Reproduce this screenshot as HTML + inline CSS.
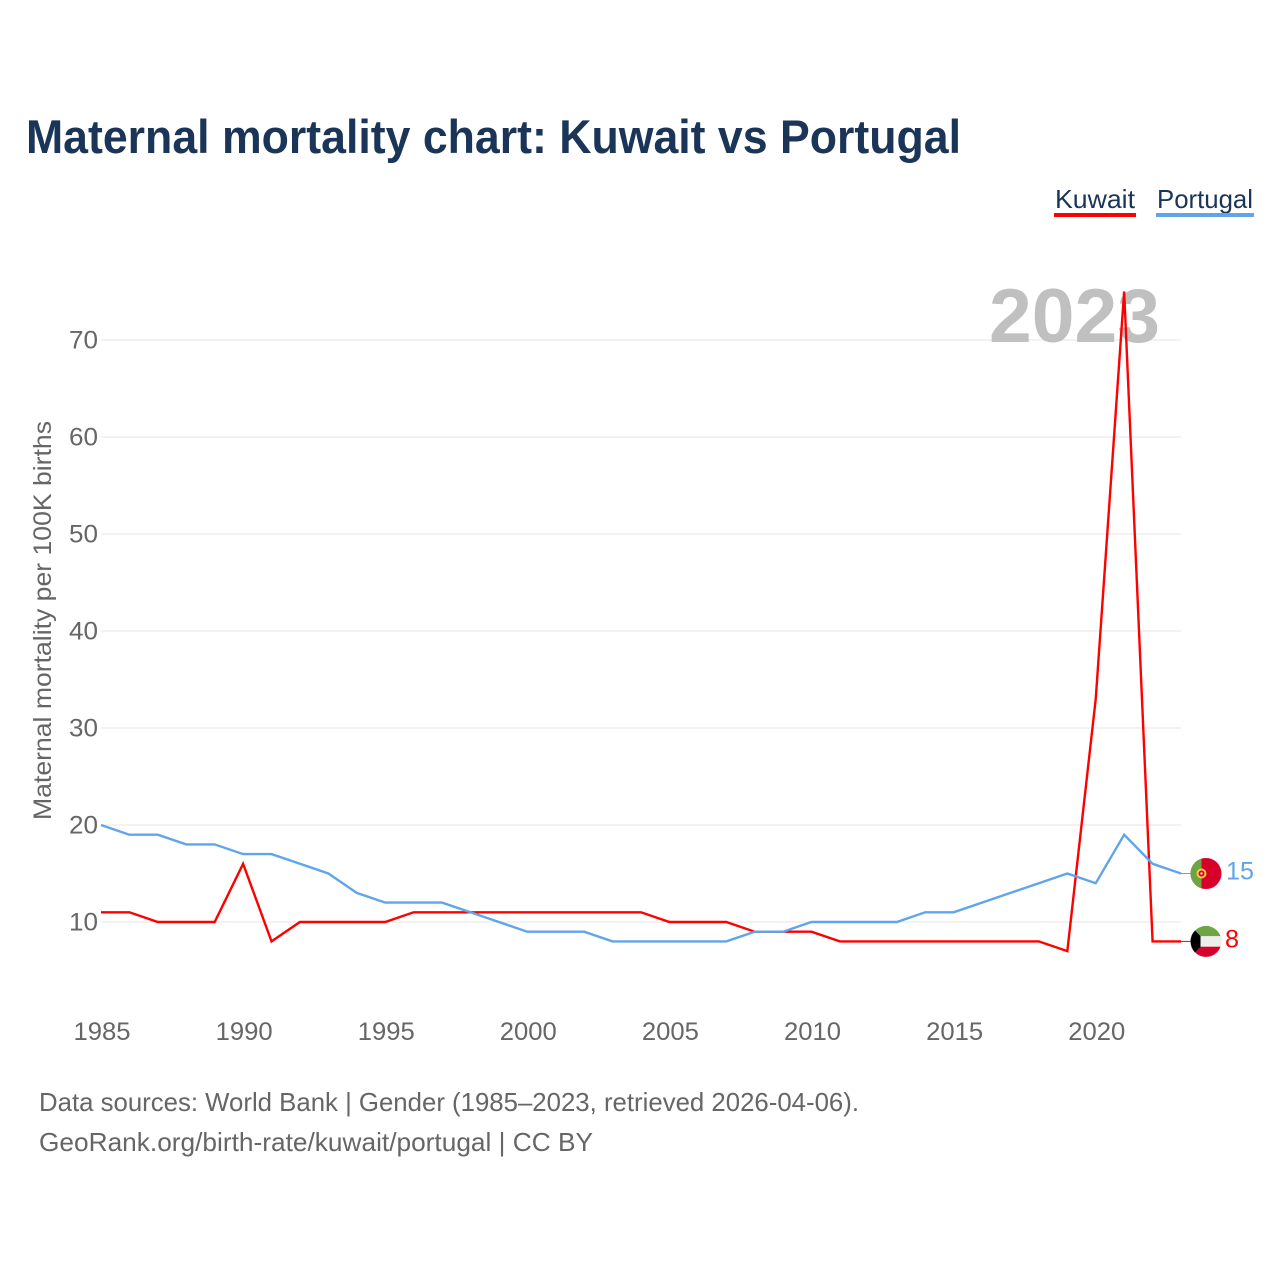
<!DOCTYPE html>
<html lang="en">
<head>
<meta charset="utf-8">
<title>Maternal mortality chart: Kuwait vs Portugal</title>
<style>
  html, body { margin: 0; padding: 0; background: #fff; }
  svg { display: block; font-family: "Liberation Sans", sans-serif; }
</style>
</head>
<body>
<svg id="chart" xmlns="http://www.w3.org/2000/svg" width="1280" height="1280" viewBox="0 0 1280 1280">
  <defs>
    <clipPath id="flag-clip-pt"><circle id="clip-pt" r="15.5"></circle></clipPath>
    <clipPath id="flag-clip-kw"><circle id="clip-kw" r="15.5"></circle></clipPath>
  </defs>
  <text x="26" y="153" font-size="47" font-weight="700" fill="#1a3557" textLength="935" lengthAdjust="spacingAndGlyphs">Maternal mortality chart: Kuwait vs Portugal</text>

  <text x="1055" y="208" font-size="26" fill="#1a3557" textLength="80" lengthAdjust="spacingAndGlyphs">Kuwait</text>
  <rect x="1054" y="213" width="82" height="4" fill="#ff0000"></rect>
  <text x="1157" y="208" font-size="26" fill="#1a3557" textLength="96" lengthAdjust="spacingAndGlyphs">Portugal</text>
  <rect x="1156" y="213" width="98" height="4" fill="#60a5ea"></rect>

  <text transform="translate(51,820) rotate(-90)" font-size="25" fill="#666666" textLength="399" lengthAdjust="spacingAndGlyphs">Maternal mortality per 100K births</text>

  <g id="grid"></g>
  <g id="y-ticks"></g>
  <g id="x-ticks"></g>

  <text x="1160" y="342" font-size="76" font-weight="700" fill="#c0c0c0" text-anchor="end" textLength="171" lengthAdjust="spacingAndGlyphs">2023</text>

  <g id="series"></g>
  <g id="endpoints"></g>

  <text x="39" y="1111" font-size="26" fill="#666666" textLength="820" lengthAdjust="spacingAndGlyphs">Data sources: World Bank | Gender (1985–2023, retrieved 2026-04-06).</text>
  <text x="39" y="1151" font-size="26" fill="#666666" textLength="554" lengthAdjust="spacingAndGlyphs">GeoRank.org/birth-rate/kuwait/portugal | CC BY</text>
</svg>
<script>
const years = [1985,1986,1987,1988,1989,1990,1991,1992,1993,1994,1995,1996,1997,1998,1999,2000,2001,2002,2003,2004,2005,2006,2007,2008,2009,2010,2011,2012,2013,2014,2015,2016,2017,2018,2019,2020,2021,2022,2023];
const kuwaitValues = [11,11,10,10,10,16,8,10,10,10,10,11,11,11,11,11,11,11,11,11,10,10,10,9,9,9,8,8,8,8,8,8,8,8,7,33,75,8,8];
const portugalValues = [20,19,19,18,18,17,17,16,15,13,12,12,12,11,10,9,9,9,8,8,8,8,8,9,9,10,10,10,10,11,11,12,13,14,15,14,19,16,15];
const yTickValues = [10,20,30,40,50,60,70];
const xTickValues = [1985,1990,1995,2000,2005,2010,2015,2020];

const NS = 'http://www.w3.org/2000/svg';
const plotLeft = 101, plotRight = 1181;
function xScale(year) {
  return plotLeft + (year - years[0]) * (plotRight - plotLeft) / (years[years.length - 1] - years[0]);
}
function yScale(value) {
  return 1019 - 9.7 * value;
}
function make(parent, tag, attrs, text) {
  const el = document.createElementNS(NS, tag);
  for (const k in attrs) el.setAttribute(k, attrs[k]);
  if (text !== undefined) el.textContent = text;
  parent.appendChild(el);
  return el;
}

const grid = document.getElementById('grid');
const yTicks = document.getElementById('y-ticks');
const xTicks = document.getElementById('x-ticks');
yTickValues.forEach(function (v) {
  const line = make(grid, 'line', { x1: plotLeft, x2: plotRight, y1: yScale(v), y2: yScale(v), stroke: '#eeeeee', 'stroke-width': 1.5 });
  
  
  const label = make(yTicks, 'text', { x: 98, y: yScale(v) + 8.5, 'font-size': 25, fill: '#666666', 'text-anchor': 'end', textLength: 29, lengthAdjust: 'spacingAndGlyphs' }, String(v));
  
  
});
xTickValues.forEach(function (yr) {
  const label = make(xTicks, 'text', { x: xScale(yr) + 1, y: 1040, 'font-size': 25, fill: '#666666', 'text-anchor': 'middle', textLength: 57, lengthAdjust: 'spacingAndGlyphs' }, String(yr));
  
  
});

const seriesGroup = document.getElementById('series');
function linePath(values) {
  return values.map(function (v, i) {
    return (i ? 'L' : 'M') + xScale(years[i]).toFixed(2) + ' ' + yScale(v).toFixed(2);
  }).join(' ');
}
const kuwaitLine = make(seriesGroup, 'path', { d: linePath(kuwaitValues), fill: 'none', stroke: '#ff0000', 'stroke-width': 2.4, 'stroke-linejoin': 'miter' });


const portugalLine = make(seriesGroup, 'path', { d: linePath(portugalValues), fill: 'none', stroke: '#60a5ea', 'stroke-width': 2.4, 'stroke-linejoin': 'miter' });



const endpoints = document.getElementById('endpoints');
const flagX = 1206;
const ptY = yScale(portugalValues[portugalValues.length - 1]);
const kwY = yScale(kuwaitValues[kuwaitValues.length - 1]);

const ptLeader = make(endpoints, 'line', { x1: plotRight, x2: flagX - 15, y1: ptY, y2: ptY, stroke: '#60a5ea', 'stroke-width': 1 });


const kwLeader = make(endpoints, 'line', { x1: plotRight, x2: flagX - 15, y1: kwY, y2: kwY, stroke: '#ff0000', 'stroke-width': 1 });



document.getElementById('clip-pt').setAttribute('cx', flagX);
document.getElementById('clip-pt').setAttribute('cy', ptY);
document.getElementById('clip-kw').setAttribute('cx', flagX);
document.getElementById('clip-kw').setAttribute('cy', kwY);

const ptFlag = make(endpoints, 'g', { 'clip-path': 'url(#flag-clip-pt)' });


make(ptFlag, 'rect', { x: flagX - 16, y: ptY - 16, width: 32, height: 32, fill: '#d6002a' });
make(ptFlag, 'rect', { x: flagX - 16, y: ptY - 16, width: 11.5, height: 32, fill: '#6da544' });
make(ptFlag, 'circle', { cx: flagX - 4.5, cy: ptY, r: 4, fill: '#d6002a', stroke: '#ffc83a', 'stroke-width': 2 });
make(ptFlag, 'rect', { x: flagX - 5.5, y: ptY - 1, width: 2, height: 2, fill: '#f5f5f5' });

const kwFlag = make(endpoints, 'g', { 'clip-path': 'url(#flag-clip-kw)' });


make(kwFlag, 'rect', { x: flagX - 16, y: kwY - 16, width: 32, height: 11, fill: '#6da544' });
make(kwFlag, 'rect', { x: flagX - 16, y: kwY - 5.3, width: 32, height: 10.6, fill: '#eeeeee' });
make(kwFlag, 'rect', { x: flagX - 16, y: kwY + 5.3, width: 32, height: 11, fill: '#d6002a' });
make(kwFlag, 'polygon', { points: [flagX - 16, kwY - 16, flagX - 5.5, kwY - 5.3, flagX - 5.5, kwY + 5.3, flagX - 16, kwY + 16].join(' '), fill: '#000000' });

const ptLabel = make(endpoints, 'text', { x: 1226, y: ptY + 6, 'font-size': 25, fill: '#60a5ea', textLength: 28, lengthAdjust: 'spacingAndGlyphs' }, String(portugalValues[portugalValues.length - 1]));


const kwLabel = make(endpoints, 'text', { x: 1225, y: kwY + 6, 'font-size': 25, fill: '#ff0000', textLength: 14, lengthAdjust: 'spacingAndGlyphs' }, String(kuwaitValues[kuwaitValues.length - 1]));


</script>
</body>
</html>
